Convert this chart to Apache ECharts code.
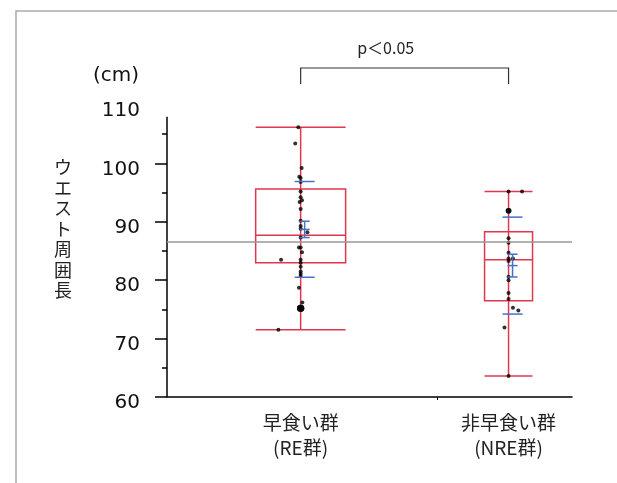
<!DOCTYPE html>
<html>
<head>
<meta charset="utf-8">
<script src="https://cdn.jsdelivr.net/npm/echarts@6/dist/echarts.min.js"></script>
<style>
  html, body { margin: 0; padding: 0; background: #fff; }
  #main { width: 617px; height: 483px; }
</style>
</head>
<body>
<div id="main"></div>
<script>
// groups on the x axis
const categories = ['早食い群\n(RE群)', '非早食い群\n(NRE群)'];
const groupX = [1.98, 5.06];

// box plot: [min, q1, median, q3, max]
const boxRE = [71.5, 83.0, 87.7, 95.6, 106.2];
const boxNRE = [63.6, 76.5, 83.5, 88.3, 95.2];

// mean, sd, half width of confidence interval
const meanRE = [88.7, 8.2, 1.4];
const meanNRE = [82.5, 8.3, 1.95];

// overall reference line
const refValue = 86.5;

// individual values and their horizontal jitter (axis units)
const ptsRE = [106.2, 103.4, 99.2, 97.7, 97.5, 96.8, 95.2, 94.2, 93.7, 93.4, 92.2, 90.2, 89.3, 88.8, 88.2, 87.3,
  85.6, 85.6, 84.8, 83.5, 83.5, 83.0, 82.3, 81.5, 81.1, 80.7, 78.7, 76.2, 75.2, 75.2, 75.2, 71.5];
const jitterRE = [-0.035, -0.08, 0.015, -0.02, 0, 0, 0, 0, 0.02, -0.015, 0, 0, 0, 0, 0.1, 0,
  -0.025, 0, 0.02, -0.29, 0, 0, 0, 0, 0, 0, -0.025, 0.025, 0, 0, 0, -0.33];
const ptsNRE = [95.2, 95.2, 91.9, 91.9, 87.2, 86.4, 84.7, 83.7, 83.7, 83.3, 80.6, 80.0, 77.8, 76.8, 75.3, 74.8, 71.9, 63.6];
const jitterNRE = [0, 0.2, 0, 0, 0, 0, 0, 0, 0.065, 0, 0, 0, 0, 0, 0.065, 0.145, -0.06, 0];

const yTicks = [60, 70, 80, 90, 100];
const yMinorTicks = [65, 75, 85, 95, 105];
const pText = 'p＜0.05';

const RED = '#e0374f';
const BLUE = '#4472c4';
const boxWidth = [1.333, 0.711];

const chart = echarts.init(document.getElementById('main'), null, { renderer: 'canvas' });

// points, with overlapping points drawn bigger
function makePoints(gx, pts, jit) {
  const counts = {};
  pts.forEach((v, i) => {
    const k = (gx + jit[i]).toFixed(3) + '_' + v;
    counts[k] = (counts[k] || 0) + 1;
  });
  return pts.map((v, i) => {
    const k = (gx + jit[i]).toFixed(3) + '_' + v;
    return [gx + jit[i], v, counts[k]];
  });
}
const points = makePoints(groupX[0], ptsRE, jitterRE).concat(makePoints(groupX[1], ptsNRE, jitterNRE));

const boxData = [[groupX[0]].concat(boxRE), [groupX[1]].concat(boxNRE)];
const meanData = [[groupX[0]].concat(meanRE), [groupX[1]].concat(meanNRE)];

const font = '"Noto Sans CJK JP", sans-serif';

const option = {
  animation: false,
  backgroundColor: '#fff',
  grid: { left: 167, right: 45, top: 105, bottom: 86 },
  xAxis: {
    type: 'value', min: 0, max: 6,
    axisLine: { show: true, lineStyle: { color: '#000', width: 1.5 } },
    axisTick: { show: true, customValues: [4], length: 3, lineStyle: { color: '#000' } },
    axisLabel: {
      show: true, customValues: groupX, margin: 13,
      fontSize: 19, lineHeight: 25, color: '#222', fontFamily: font,
      formatter: v => categories[groupX.indexOf(v)] || ''
    },
    splitLine: { show: false }
  },
  yAxis: [{
    type: 'value', min: 60, max: 110, interval: 10,
    axisLine: { show: false },
    axisTick: { show: true, customValues: yTicks, length: 12, lineStyle: { color: '#000', width: 1.5 } },
    axisLabel: {
      margin: 27,
      formatter: v => '{s|}\n{a|' + v + '}',
      rich: {
        s: { height: 12, lineHeight: 12 },
        a: { fontSize: 20, lineHeight: 24, color: '#111', fontFamily: 'DejaVu Sans' }
      }
    },
    splitLine: { show: false }
  }, {
    type: 'value', min: 60, max: 110, position: 'left',
    axisLine: { show: false },
    axisTick: { show: true, customValues: yMinorTicks, length: 5, lineStyle: { color: '#000', width: 1.5 } },
    axisLabel: { show: false },
    splitLine: { show: false }
  }],
  graphic: [
    { type: 'rect', shape: { x: 16, y: 11, width: 700, height: 600 }, style: { fill: 'none', stroke: '#aaa', lineWidth: 1.5 }, silent: true },
    { type: 'text', x: 116, y: 76, style: { text: '(cm)', fontSize: 20, fill: '#111', fontFamily: 'DejaVu Sans', align: 'center', verticalAlign: 'middle' } },
    { type: 'text', left: 54, top: 157, style: { text: 'ウエスト周囲長'.split('').join('\n'), fontSize: 18, lineHeight: 20.5, fill: '#222', fontFamily: font } }
  ],
  series: [
    {
      // y axis line, stops a little short of the top label
      type: 'custom', silent: true, clip: false, z: 1,
      data: [[0, 60, 108]],
      renderItem: (params, api) => {
        const a = api.coord([api.value(0), api.value(1)]);
        const b = api.coord([api.value(0), api.value(2)]);
        return { type: 'line', shape: { x1: a[0], y1: a[1], x2: b[0], y2: b[1] }, style: { stroke: '#000', lineWidth: 1.5 } };
      }
    },
    {
      // box and whiskers
      type: 'custom', silent: true, z: 2,
      data: boxData,
      renderItem: (params, api) => {
        const x = api.value(0);
        const lo = api.coord([x, api.value(1)]);
        const q1 = api.coord([x, api.value(2)]);
        const md = api.coord([x, api.value(3)]);
        const q3 = api.coord([x, api.value(4)]);
        const hi = api.coord([x, api.value(5)]);
        const w = api.size([boxWidth[params.dataIndex], 0])[0];
        const st = { stroke: RED, lineWidth: 1.5, fill: 'none' };
        const hline = p => ({ type: 'line', shape: { x1: p[0] - w / 2, y1: p[1], x2: p[0] + w / 2, y2: p[1] }, style: st });
        return {
          type: 'group',
          children: [
            { type: 'line', shape: { x1: lo[0], y1: lo[1], x2: hi[0], y2: hi[1] }, style: st },
            { type: 'rect', shape: { x: q3[0] - w / 2, y: q3[1], width: w, height: q1[1] - q3[1] }, style: st },
            hline(lo), hline(hi), hline(md)
          ]
        };
      }
    },
    {
      type: 'scatter', z: 3,
      data: points,
      symbolSize: d => 4 + 1.6 * (d[2] - 1),
      itemStyle: { color: '#000' },
      markLine: {
        silent: true, symbol: 'none', label: { show: false },
        lineStyle: { color: '#999', width: 1.5, type: 'solid' },
        data: [{ yAxis: refValue }]
      }
    },
    {
      // mean, sd and confidence interval markers
      type: 'custom', silent: true, z: 4,
      data: meanData,
      renderItem: (params, api) => {
        const x = api.value(0), m = api.value(1), sd = api.value(2), ci = api.value(3);
        const off = 4;
        const st = { stroke: BLUE, lineWidth: 1.5 };
        const h = (v, half) => {
          const p = api.coord([x, v]);
          return { type: 'line', shape: { x1: p[0] + off - half, y1: p[1], x2: p[0] + off + half, y2: p[1] }, style: st };
        };
        const a = api.coord([x, m + ci]), b = api.coord([x, m - ci]);
        return {
          type: 'group',
          children: [
            h(m + sd, 10), h(m - sd, 10), h(m + ci, 5), h(m, 5), h(m - ci, 5),
            { type: 'line', shape: { x1: a[0] + off, y1: a[1], x2: b[0] + off, y2: b[1] }, style: st }
          ]
        };
      }
    },
    {
      // significance bracket
      type: 'custom', silent: true, clip: false, z: 5,
      data: [[groupX[0], groupX[1], 110]],
      renderItem: (params, api) => {
        const a = api.coord([api.value(0), api.value(2)]);
        const b = api.coord([api.value(1), api.value(2)]);
        const top = a[1] - 37, leg = a[1] - 21;
        const st = { stroke: '#333', lineWidth: 1.2, fill: 'none' };
        return {
          type: 'group',
          children: [
            { type: 'polyline', shape: { points: [[a[0], leg], [a[0], top], [b[0], top], [b[0], leg]] }, style: st },
            { type: 'text', x: a[0] + 85, y: a[1] - 57, style: { text: pText, fontSize: 16, fill: '#222', align: 'center', verticalAlign: 'middle', fontFamily: font } }
          ]
        };
      }
    }
  ]
};

chart.setOption(option);
</script>
</body>
</html>
